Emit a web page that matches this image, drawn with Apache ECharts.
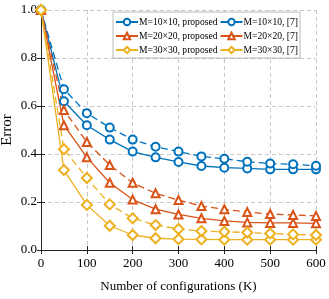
<!DOCTYPE html>
<html><head><meta charset="utf-8">
<script src="https://cdn.jsdelivr.net/npm/echarts@6/dist/echarts.min.js"></script>
<style>html,body{margin:0;padding:0;background:#fff}#c{width:329px;height:299px}</style>
</head><body><div id="c"></div>
<script>
const xVals = [0, 50, 100, 150, 200, 250, 300, 350, 400, 450, 500, 550, 600];
const prop10 = [1.0, 0.62, 0.52, 0.46, 0.41, 0.386, 0.367, 0.35, 0.343, 0.34, 0.336, 0.336, 0.336];
const ref10  = [1.0, 0.67, 0.57, 0.51, 0.46, 0.43, 0.41, 0.39, 0.38, 0.368, 0.36, 0.357, 0.351];
const prop20 = [1.0, 0.52, 0.386, 0.28, 0.21, 0.17, 0.148, 0.132, 0.121, 0.115, 0.113, 0.113, 0.111];
const ref20  = [1.0, 0.583, 0.45, 0.354, 0.28, 0.236, 0.208, 0.183, 0.17, 0.158, 0.15, 0.146, 0.142];
const prop30 = [1.0, 0.333, 0.188, 0.101, 0.0625, 0.049, 0.045, 0.044, 0.043, 0.043, 0.043, 0.043, 0.043];
const ref30  = [1.0, 0.42, 0.30, 0.19, 0.132, 0.104, 0.0875, 0.079, 0.076, 0.073, 0.069, 0.065, 0.0625];
const names = ['M=10×10, proposed', 'M=10×10, [7]', 'M=20×20, proposed', 'M=20×20, [7]', 'M=30×30, proposed', 'M=30×30, [7]'];
const yTicks = ['0.0', '0.2', '0.4', '0.6', '0.8', '1.0'];

const blue = '#0072BD', red = '#D95319', yellow = '#EDB120';
const font = 'Liberation Serif';
function mk(name, data, color, symbol, dashed) {
  return {
    name, type: 'line', data: xVals.map((x, i) => [x, data[i]]),
    symbol, symbolSize: symbol === 'emptyDiamond' ? 10 : 8,
    itemStyle: { color: color, borderColor: color, borderWidth: 1.2 },
    lineStyle: { color: color, width: 1.3, type: dashed ? [7, 4] : 'solid' },
    showAllSymbol: true, animation: false
  };
}
const series = [
  mk(names[0], prop10, blue, 'emptyCircle', false),
  mk(names[1], ref10, blue, 'emptyCircle', true),
  mk(names[2], prop20, red, 'emptyTriangle', false),
  mk(names[3], ref20, red, 'emptyTriangle', true),
  mk(names[4], prop30, yellow, 'emptyDiamond', false),
  mk(names[5], ref30, yellow, 'emptyDiamond', true)
];
const axisCommon = {
  axisLine: { show: true, lineStyle: { color: '#262626', width: 1 } },
  axisTick: { show: true, inside: true, length: 4, lineStyle: { color: '#262626' } },
};
const chart = echarts.init(document.getElementById('c'), null, { renderer: 'canvas' });
chart.setOption({
  animation: false,
  backgroundColor: '#fff',
  grid: { left: 41, top: 10, right: 13, bottom: 49, containLabel: false, outerBoundsMode: 'none' },
  legend: {
    left: 113, top: 12, width: 260,
    orient: 'horizontal',
    itemWidth: 22, itemHeight: 8, itemGap: 2,
    padding: [4, 2, 2, 2],
    backgroundColor: '#fff', borderColor: '#a8a8a8', borderWidth: 0.8,
    textStyle: { fontFamily: font, fontSize: 9.6, lineHeight: 12, color: '#000', padding: [0, 0, 0, -4] },
    data: names.map(n => ({ name: n, lineStyle: { type: 'solid' } }))
  },
  xAxis: [{
    type: 'value', min: 0, max: 600, interval: 100,
    name: 'Number of configurations (K)', nameLocation: 'middle', nameGap: 30, nameMoveOverlap: false,
    nameTextStyle: { fontFamily: font, fontSize: 13, color: '#000' },
    axisLabel: { fontFamily: font, fontSize: 13, color: '#000', margin: 7 },
    splitLine: { show: true, lineStyle: { color: '#c8c8c8', type: [4, 3], width: 1 } },
    ...axisCommon
  }, {
    type: 'value', min: 0, max: 600, interval: 100, position: 'top',
    axisLabel: { show: false }, splitLine: { show: false }, ...axisCommon
  }],
  yAxis: [{
    type: 'value', min: 0, max: 1, interval: 0.2,
    name: 'Error', nameLocation: 'middle', nameGap: 26, nameMoveOverlap: false,
    nameTextStyle: { fontFamily: font, fontSize: 15, color: '#000' },
    axisLabel: { fontFamily: font, fontSize: 13, color: '#000', margin: 4,
      formatter: v => yTicks[Math.round(v / 0.2)] },
    splitLine: { show: true, lineStyle: { color: '#c8c8c8', type: [4, 3], width: 1 } },
    ...axisCommon
  }, {
    type: 'value', min: 0, max: 1, interval: 0.2, position: 'right',
    axisLabel: { show: false }, splitLine: { show: false }, ...axisCommon
  }],
  series
});
</script></body></html>
